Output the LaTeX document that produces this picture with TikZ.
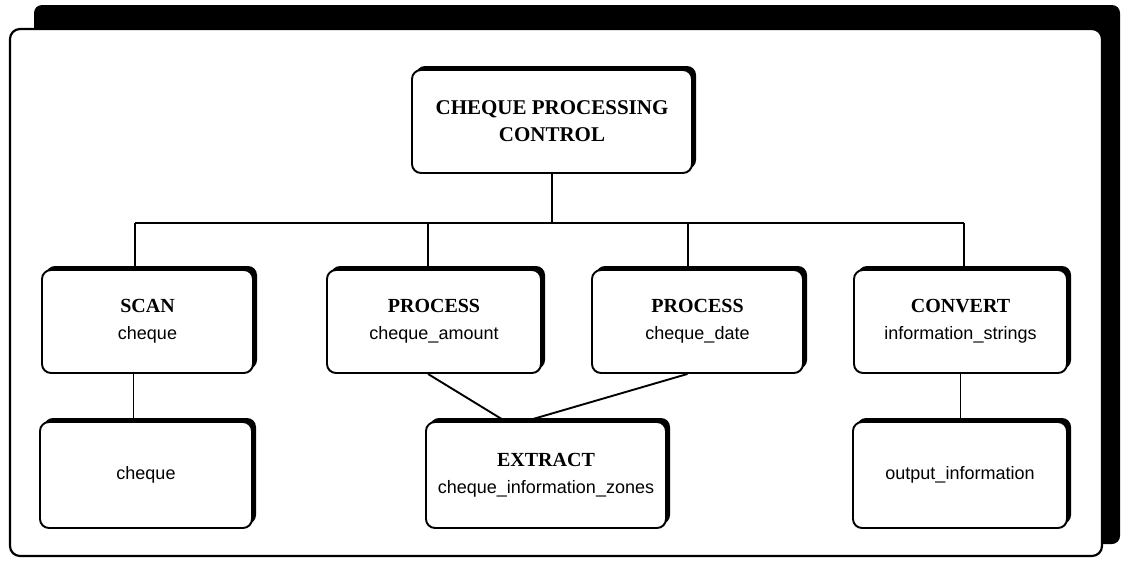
\documentclass[tikz,border=0pt]{standalone}
\usepackage{fontspec}
\setmainfont{Liberation Serif}
\setsansfont{Liberation Sans}
\usetikzlibrary{shadows}

\newcommand{\boxttl}[1]{{\fontsize{20}{24}\selectfont\bfseries #1}}
\newcommand{\boxsub}[1]{{\fontsize{18}{24}\selectfont\sffamily #1}}

\begin{document}
\begin{tikzpicture}[x=1pt, y=-1pt, line width=1.9pt,
  procbox/.style={draw, fill=white, rounded corners=9pt, align=center,
    inner sep=0pt, font=\fontsize{18}{27}\selectfont,
    drop shadow={shadow xshift=4pt, shadow yshift=4pt, opacity=1, fill=black}},
  link/.style={line width=1.9pt}]
  \useasboundingbox (0,0) rectangle (1125,566);

  % frame
  \fill[rounded corners=8pt] (34,5) rectangle (1120,544);
  \draw[fill=white, line width=2.2pt, rounded corners=10pt] (10,29) rectangle (1102,556);

  % boxes
  \node[procbox, minimum width=280pt, minimum height=103pt] (ctrl) at (552,121.5)
    {{\fontsize{21}{27}\selectfont\bfseries CHEQUE PROCESSING}\\{\fontsize{21}{27}\selectfont\bfseries CONTROL}};
  \node[procbox, minimum width=211pt, minimum height=103pt] (scan) at (147.5,321.5)
    {\boxttl{SCAN}\\\boxsub{cheque}};
  \node[procbox, minimum width=214pt, minimum height=103pt] (amount) at (434,321.5)
    {\boxttl{PROCESS}\\\boxsub{cheque\_amount}};
  \node[procbox, minimum width=211pt, minimum height=103pt] (date) at (697.5,321.5)
    {\boxttl{PROCESS}\\\boxsub{cheque\_date}};
  \node[procbox, minimum width=213pt, minimum height=103pt] (convert) at (960.5,321.5)
    {\boxttl{CONVERT}\\\boxsub{information\_strings}};
  \node[procbox, minimum width=212pt, minimum height=106pt] (cheque) at (146,475)
    {\boxsub{cheque}};
  \node[procbox, minimum width=240pt, minimum height=106pt] (extract) at (546,475)
    {\boxttl{EXTRACT}\\\boxsub{cheque\_information\_zones}};
  \node[procbox, minimum width=214pt, minimum height=106pt] (output) at (960,475)
    {\boxsub{output\_information}};

  % tree
  \coordinate (b1) at (135,223);
  \coordinate (b2) at (428,223);
  \coordinate (b3) at (688,223);
  \coordinate (b4) at (964,223);
  \draw[link] (ctrl.south) -- (ctrl.south |- b1);
  \draw[link] (b1) -- (b4);
  \draw[link] (b1) -- (b1 |- scan.north);
  \draw[link] (b2) -- (b2 |- amount.north);
  \draw[link] (b3) -- (b3 |- date.north);
  \draw[link] (b4) -- (b4 |- convert.north);

  \draw[link] ([xshift=-14pt]scan.south) -- ([xshift=-14pt]scan.south |- cheque.north);
  \draw[link] ([xshift=-6pt]amount.south) -- ([xshift=-41pt]extract.north);
  \draw[link] ([xshift=-10pt]date.south) -- ([xshift=-20pt]extract.north);
  \draw[link] (convert.south) -- (convert.south |- output.north);
\end{tikzpicture}
\end{document}
